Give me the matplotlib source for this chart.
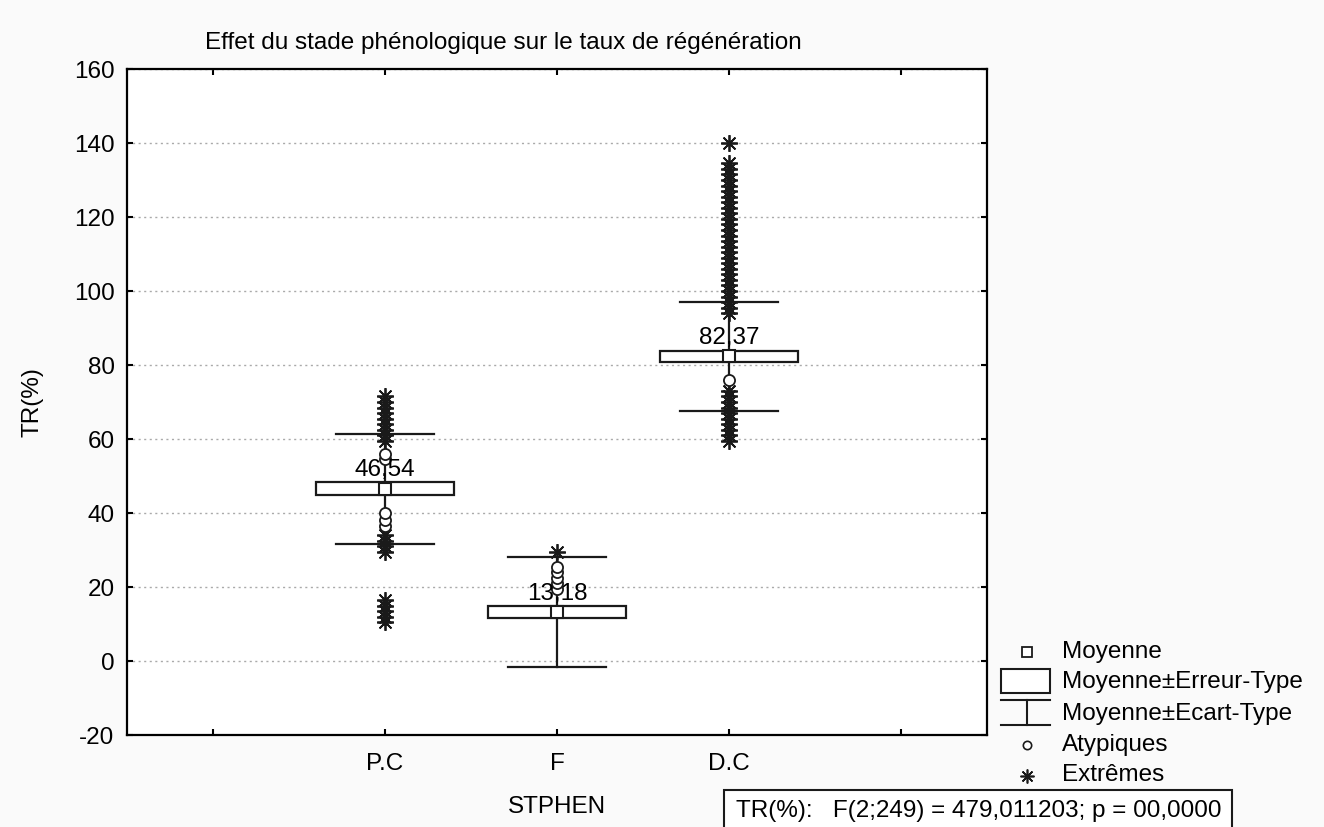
import matplotlib
matplotlib.use("Agg")
import matplotlib.pyplot as plt
from matplotlib.lines import Line2D
from matplotlib.patches import Rectangle

plt.rcParams['font.family'] = ['Liberation Sans', 'DejaVu Sans']

# ---- data ----
categories = ['P.C', 'F', 'D.C']
means = [46.54, 13.18, 82.37]
std_err = [1.8, 1.65, 1.5]
std_dev = [14.8, 14.8, 14.75]
mean_labels = ['46,54', '13,18', '82,37']
outliers = [
    [36.5, 38.0, 40.0, 54.5, 56.0],
    [19.5, 21.0, 22.5, 24.0, 25.5],
    [76.0],
]
extremes = [
    [10.5, 12.0, 13.5, 15.0, 16.5, 29.5, 31.0, 32.5, 34.0,
     59.5, 61.0, 62.5, 64.0, 65.5, 67.0, 68.5, 70.0, 71.5],
    [29.5],
    [59.5, 61.0, 62.5, 64.0, 65.5, 67.0, 68.5, 70.0, 71.5, 73.0,
     94.0, 95.5, 97.0, 98.5, 100.0, 101.5, 103.0, 104.5, 106.0, 107.5,
     109.0, 110.5, 112.0, 113.5, 115.0, 116.5, 118.0, 119.5, 121.0, 122.5,
     124.0, 125.5, 127.0, 128.5, 130.0, 131.5, 133.0, 134.5, 140.0],
]
yticks = [-20, 0, 20, 40, 60, 80, 100, 120, 140, 160]
title = "Effet du stade phénologique sur le taux de régénération"
xlabel = "STPHEN"
ylabel = "TR(%)"
stat_text = "TR(%):   F(2;249) = 479,011203; p = 00,0000"
leg_labels = ['Moyenne', 'Moyenne±Erreur-Type', 'Moyenne±Ecart-Type', 'Atypiques', 'Extrêmes']

FS = 17.5
W, H = 1324, 827
fig = plt.figure(figsize=(W / 100, H / 100), dpi=100, facecolor='#fafafa')
ax = fig.add_axes([127 / W, 1 - 735 / H, (987 - 127) / W, (735 - 69) / H])
ax.set_facecolor('white')

xpos = [1, 2, 3]
box_hw = 0.40
cap_hw = 0.285
ast = (8, 2, 0)
ink = '#1a1a1a'

for i, x in enumerate(xpos):
    m, se, sd = means[i], std_err[i], std_dev[i]
    ax.plot([x, x], [m - sd, m + sd], color=ink, lw=1.6, zorder=2)
    ax.plot([x - cap_hw, x + cap_hw], [m + sd, m + sd], color=ink, lw=1.6, zorder=2)
    ax.plot([x - cap_hw, x + cap_hw], [m - sd, m - sd], color=ink, lw=1.6, zorder=2)
    ax.add_patch(Rectangle((x - box_hw, m - se), 2 * box_hw, 2 * se,
                           facecolor='white', edgecolor=ink, lw=1.6, zorder=3))
    ax.plot([x] * len(extremes[i]), extremes[i], linestyle='none', marker=ast,
            markersize=12, markeredgewidth=1.3, color=ink, zorder=4)
    ax.plot([x] * len(outliers[i]), outliers[i], linestyle='none', marker='o',
            markersize=8, markerfacecolor='white', markeredgecolor=ink,
            markeredgewidth=1.3, zorder=5)
    ax.plot([x], [m], linestyle='none', marker='s', markersize=9,
            markerfacecolor='white', markeredgecolor=ink, markeredgewidth=1.5, zorder=6)
    ax.annotate(mean_labels[i], (x, m + se), xytext=(0, 1), textcoords='offset points',
                ha='center', va='bottom', fontsize=FS, zorder=7)

ax.set_xlim(-0.5, 4.5)
ax.set_ylim(-20, 160)
ax.set_xticks([0, 1, 2, 3, 4])
ax.set_xticklabels([''] + categories + [''])
ax.set_yticks(yticks)
ax.set_yticklabels([str(v) for v in yticks])
ax.tick_params(direction='in', top=True, right=True, length=4, width=1.5,
               labelsize=FS, pad=9)
ax.tick_params(axis='x', pad=13)
ax.yaxis.grid(True, linestyle=(0, (1.5, 2.5)), color='#aaaaaa', lw=1.0)
ax.set_axisbelow(True)
for s in ax.spines.values():
    s.set_linewidth(1.6)


def fx(px):
    return px / W


def fy(py):
    return 1 - py / H


fig.text(fx(205), fy(43), title, fontsize=FS, ha='left', va='center')
fig.text(fx(32), fy(402), ylabel, fontsize=FS, rotation=90, ha='center', va='center')
fig.text(fx(557), fy(807), xlabel, fontsize=FS, ha='center', va='center')

T = fig.transFigure
fig.add_artist(Line2D([fx(1027)], [fy(652)], marker='s', markersize=7, markerfacecolor='white',
                      markeredgecolor=ink, markeredgewidth=1.3, transform=T))
fig.add_artist(Rectangle((fx(1001), fy(693)), fx(1050) - fx(1001), fy(669) - fy(693),
                         facecolor='white', edgecolor=ink, lw=1.5, transform=T))
fig.add_artist(Line2D([fx(1001), fx(1050)], [fy(700), fy(700)], color=ink, lw=1.5, transform=T))
fig.add_artist(Line2D([fx(1001), fx(1050)], [fy(725), fy(725)], color=ink, lw=1.5, transform=T))
fig.add_artist(Line2D([fx(1027), fx(1027)], [fy(700), fy(725)], color=ink, lw=1.5, transform=T))
fig.add_artist(Line2D([fx(1027)], [fy(745)], marker='o', markersize=6, markerfacecolor='white',
                      markeredgecolor=ink, markeredgewidth=1.2, transform=T))
fig.add_artist(Line2D([fx(1027)], [fy(776)], marker=ast, markersize=10, markeredgewidth=1.2,
                      color=ink, transform=T))
leg_y = [652, 682, 714, 745, 775]
for lab, yy in zip(leg_labels, leg_y):
    fig.text(fx(1062), fy(yy), lab, fontsize=FS, ha='left', va='center')

fig.add_artist(Rectangle((fx(724), fy(840)), fx(1232) - fx(724), fy(790) - fy(840),
                         facecolor='white', edgecolor=ink, lw=1.5, transform=T))
fig.text(fx(736), fy(811), stat_text, fontsize=FS, ha='left', va='center')

fig.savefig('out.png', dpi=100, facecolor=fig.get_facecolor())
